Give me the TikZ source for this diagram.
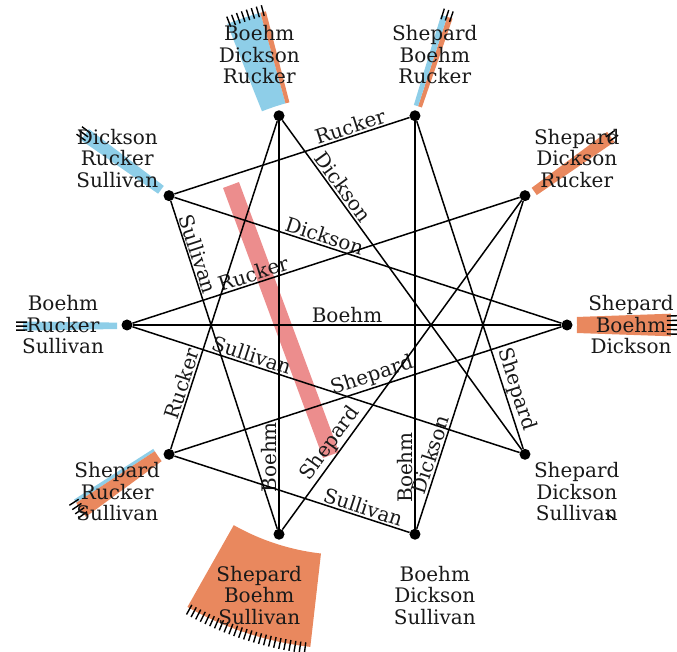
\documentclass[tikz,border=0pt]{standalone}
\usepackage{fontspec}
\setmainfont{DejaVu Serif}
\definecolor{bandblue}{RGB}{142,206,232}
\definecolor{bandorange}{RGB}{233,136,94}
\definecolor{bandpink}{RGB}{236,141,141}
\newcommand\bandsector[3]{\fill[#1] (#2:230) -- (#2:324) arc[start angle=#2,end angle=#3,radius=324] -- (#3:230) arc[start angle=#3,end angle=#2,radius=230] -- cycle;}
\newcommand\bandticks[1]{\foreach \t in {#1} \draw[tickmark] (\t:320) -- (\t:331);}
\begin{document}
\begin{tikzpicture}[x=1pt,y=1pt,
  vdot/.style={circle,fill=black,inner sep=0pt,minimum size=11pt},
  link/.style={line width=1.5pt,black},
  vlabel/.style={align=center,font=\fontsize{20}{21.5}\selectfont,text=black!90},
  elabel/.style={font=\fontsize{20}{21.5}\selectfont,text=black!90,anchor=south,inner sep=1.5pt},
  tickmark/.style={line width=1.4pt,black}]
\useasboundingbox (0,0) rectangle (677,652);
\begin{scope}[shift={(347,327)}]
  % bands
  \bandsector{bandblue}{105.5}{111.7}
  \bandsector{bandorange}{104.5}{105.5}
  \bandticks{105,105.9,...,111.5}
  \bandsector{bandorange}{71}{72}
  \bandsector{bandblue}{72}{73.1}
  \bandticks{71.3,72.1,72.9}
  \bandsector{bandorange}{34.4}{36.6}
  \bandticks{35,36}
  \bandsector{bandorange}{-2}{2}
  \bandticks{-1.6,-0.8,...,1.7}
  \bandticks{324}
  \bandsector{bandorange}{240.5}{263.5}
  \bandticks{241,241.9,...,263.2}
  \bandsector{bandblue}{212.6}{213.3}
  \bandsector{bandorange}{213.3}{216.3}
  \bandticks{213,213.9,...,216.2}
  \bandsector{bandblue}{179.4}{181}
  \bandticks{179.5,180.2,180.9}
  \bandsector{bandblue}{142.8}{145.2}
  \bandticks{143.2,144,144.8}
\end{scope}
% central pink band
\draw[bandpink,line width=17pt] (231,467) -- (331,197);
\begin{scope}[shift={(347,327)}]
  % vertices
  \node[vdot] (vD) at (0:220) {};
  \node[vdot] (vC) at (36:220) {};
  \node[vdot] (vB) at (72:220) {};
  \node[vdot] (vA) at (108:220) {};
  \node[vdot] (vJ) at (144:220) {};
  \node[vdot] (vI) at (180:220) {};
  \node[vdot] (vH) at (216:220) {};
  \node[vdot] (vG) at (252:220) {};
  \node[vdot] (vF) at (288:220) {};
  \node[vdot] (vE) at (324:220) {};
  % edges
  \draw[link] (vJ) -- node[elabel,pos=0.76,rotate=18]{Rucker} (vB);
  \draw[link] (vA) -- node[elabel,pos=0.22,rotate=-54]{Dickson} (vE);
  \draw[link] (vJ) -- node[elabel,pos=0.38,rotate=-18]{Dickson} (vD);
  \draw[link] (vI) -- node[elabel,pos=0.32,rotate=18]{Rucker} (vC);
  \draw[link] (vJ) -- node[elabel,pos=0.17,rotate=-72]{Sullivan} (vG);
  \draw[link] (vH) -- node[elabel,pos=0.19,rotate=72]{Rucker} (vA);
  \draw[link] (vI) -- node[elabel,pos=0.5]{Boehm} (vD);
  \draw[link] (vI) -- node[elabel,pos=0.30,rotate=-18]{Sullivan} (vE);
  \draw[link] (vH) -- node[elabel,pos=0.52,rotate=18]{Shepard} (vD);
  \draw[link] (vB) -- node[elabel,pos=0.83,rotate=-72]{Shepard} (vE);
  \draw[link] (vG) -- node[elabel,pos=0.24,rotate=54]{Shepard} (vC);
  \draw[link] (vG) -- node[elabel,pos=0.175,rotate=90]{Boehm} (vA);
  \draw[link] (vF) -- node[elabel,pos=0.15,rotate=90]{Boehm} (vB);
  \draw[link] (vF) -- node[elabel,pos=0.216,rotate=72]{Dickson} (vC);
  \draw[link] (vH) -- node[elabel,pos=0.79,rotate=-18]{Sullivan} (vF);
  % vertex labels
  \node[vlabel] (lA) at (108:284) {Boehm\\Dickson\\Rucker};
  \node[vlabel] (lB) at (72:284) {Shepard\\Boehm\\Rucker};
  \node[vlabel] (lC) at (36:284) {Shepard\\Dickson\\Rucker};
  \node[vlabel] (lD) at (0:284) {Shepard\\Boehm\\Dickson};
  \node[vlabel] (lE) at (324:284) {Shepard\\Dickson\\Sullivan};
  \node[vlabel] (lF) at (288:284) {Boehm\\Dickson\\Sullivan};
  \node[vlabel] (lG) at (252:284) {Shepard\\Boehm\\Sullivan};
  \node[vlabel] (lH) at (216:284) {Shepard\\Rucker\\Sullivan};
  \node[vlabel] (lI) at (180:284) {Boehm\\Rucker\\Sullivan};
  \node[vlabel] (lJ) at (144:284) {Dickson\\Rucker\\Sullivan};
\end{scope}
\end{tikzpicture}
\end{document}
